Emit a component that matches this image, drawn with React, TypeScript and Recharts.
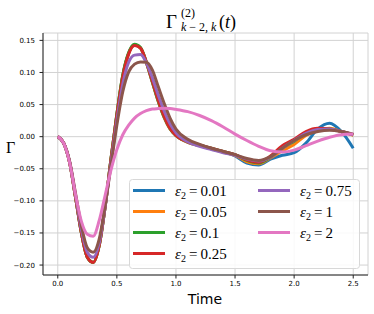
import React from "react";
import {
  LineChart,
  Line,
  XAxis,
  YAxis,
  CartesianGrid,
} from "recharts";

// time samples
const times = [
  0, 0.05, 0.1, 0.15, 0.2, 0.25, 0.3, 0.35, 0.4, 0.45, 0.5, 0.55, 0.6, 0.65,
  0.7, 0.75, 0.8, 0.85, 0.9, 0.95, 1.0, 1.1, 1.2, 1.3, 1.4, 1.5, 1.6, 1.7,
  1.8, 1.9, 2.0, 2.1, 2.2, 2.3, 2.4, 2.5,
];

// Γ values per ε2
const eps001 = [
  0, -0.01, -0.04, -0.094, -0.15, -0.188, -0.196, -0.17, -0.11, -0.035, 0.035,
  0.095, 0.13, 0.143, 0.138, 0.115, 0.085, 0.055, 0.03, 0.012, 0.002, -0.009,
  -0.014, -0.019, -0.024, -0.03, -0.041, -0.044, -0.035, -0.029, -0.025,
  -0.01, 0.012, 0.021, 0.008, -0.018,
];
const eps005 = [
  0, -0.01, -0.04, -0.094, -0.15, -0.188, -0.196, -0.17, -0.11, -0.035, 0.035,
  0.095, 0.13, 0.143, 0.138, 0.115, 0.085, 0.055, 0.03, 0.012, 0.002, -0.009,
  -0.014, -0.019, -0.024, -0.029, -0.039, -0.042, -0.033, -0.022, -0.012,
  0.002, 0.01, 0.013, 0.008, 0.002,
];
const eps01 = [
  0, -0.01, -0.04, -0.094, -0.15, -0.188, -0.196, -0.17, -0.11, -0.035, 0.035,
  0.096, 0.131, 0.144, 0.139, 0.116, 0.086, 0.056, 0.031, 0.013, 0.002, -0.008,
  -0.013, -0.018, -0.023, -0.028, -0.037, -0.041, -0.032, -0.018, -0.007,
  0.005, 0.011, 0.012, 0.008, 0.003,
];
const eps025 = [
  0, -0.01, -0.04, -0.094, -0.15, -0.188, -0.196, -0.17, -0.11, -0.036, 0.033,
  0.093, 0.129, 0.142, 0.138, 0.116, 0.087, 0.057, 0.032, 0.013, 0.002, -0.008,
  -0.013, -0.018, -0.023, -0.028, -0.036, -0.04, -0.03, -0.014, -0.004, 0.008,
  0.013, 0.012, 0.008, 0.003,
];
const eps075 = [
  0, -0.01, -0.039, -0.091, -0.145, -0.18, -0.188, -0.166, -0.11, -0.041,
  0.025, 0.082, 0.116, 0.127, 0.128, 0.115, 0.092, 0.065, 0.04, 0.02, 0.006,
  -0.008, -0.015, -0.02, -0.025, -0.029, -0.035, -0.038, -0.032, -0.018,
  -0.006, 0.005, 0.011, 0.012, 0.008, 0.003,
];
const eps1 = [
  0, -0.01, -0.038, -0.088, -0.139, -0.173, -0.18, -0.16, -0.108, -0.045,
  0.018, 0.07, 0.101, 0.113, 0.1165, 0.116, 0.104, 0.078, 0.052, 0.029, 0.012,
  -0.004, -0.012, -0.018, -0.023, -0.028, -0.034, -0.037, -0.031, -0.018,
  -0.006, 0.003, 0.008, 0.01, 0.008, 0.004,
];
const eps2 = [
  0, -0.01, -0.04, -0.09, -0.132, -0.152, -0.155, -0.131, -0.092, -0.052,
  -0.02, 0.003, 0.018, 0.029, 0.036, 0.0405, 0.043, 0.0438, 0.0442, 0.0438,
  0.0425, 0.039, 0.033, 0.025, 0.015, 0.004, -0.006, -0.015, -0.022, -0.024,
  -0.021, -0.014, -0.007, -0.001, 0.003, 0.004,
];

const xTicks = [0, 0.5, 1.0, 1.5, 2.0, 2.5];
const yTicks = [-0.2, -0.15, -0.1, -0.05, 0, 0.05, 0.1, 0.15];

const series = [
  { key: "e001", label: "0.01", color: "#1f77b4", values: eps001 },
  { key: "e005", label: "0.05", color: "#ff7f0e", values: eps005 },
  { key: "e01", label: "0.1", color: "#2ca02c", values: eps01 },
  { key: "e025", label: "0.25", color: "#d62728", values: eps025 },
  { key: "e075", label: "0.75", color: "#9467bd", values: eps075 },
  { key: "e1", label: "1", color: "#8c564b", values: eps1 },
  { key: "e2", label: "2", color: "#e377c2", values: eps2 },
];

const data = times.map((t, i) => {
  const row: Record<string, number> = { t };
  series.forEach((s) => (row[s.key] = s.values[i]));
  return row;
});

const fmtY = (v: number) => (v < 0 ? "\u2212" : "") + Math.abs(v).toFixed(2);
const fmtX = (v: number) => v.toFixed(1);

const tickStyle = { fontFamily: "DejaVu Sans", fontSize: 7, fill: "#000" };

function LegendBox() {
  const colA = series.slice(0, 4);
  const colB = series.slice(4);
  const row = (s: (typeof series)[number], i: number, x: number) => (
    <g key={s.key}>
      <line x1={x} x2={x + 32} y1={11.5 + i * 21} y2={11.5 + i * 21} stroke={s.color} strokeWidth={3} />
      <text x={x + 42} y={16.5 + i * 21} fontFamily="Liberation Serif" fontSize={15} fill="#000">
        <tspan fontStyle="italic">ε</tspan>
        <tspan fontSize={10} dy={3}>2</tspan>
        <tspan dy={-3}>{"\u2009=\u2009" + s.label}</tspan>
      </text>
    </g>
  );
  return (
    <g transform="translate(129,179)">
      <rect x={0.5} y={0.5} width={230} height={89} rx={3} fill="#fff" fillOpacity={0.85} stroke="#d8d8d8" />
      {colA.map((s, i) => row(s, i, 4))}
      {colB.map((s, i) => row(s, i, 129))}
    </g>
  );
}

export default function App() {
  return (
    <div style={{ position: "absolute", left: 0, top: 0, width: 374, height: 314, background: "#fff" }}>
      <LineChart width={374} height={314} data={data} margin={{ top: 33, right: 6, bottom: 0, left: 0 }}>
        <CartesianGrid stroke="#d2d2d2" strokeWidth={1} />
        <XAxis
          dataKey="t"
          type="number"
          domain={[-0.125, 2.625]}
          ticks={xTicks}
          tickFormatter={fmtX}
          tick={tickStyle}
          tickSize={3.5}
          tickMargin={2.5}
          height={39}
          stroke="#222"
          allowDataOverflow
        />
        <XAxis xAxisId="top" orientation="top" type="number" domain={[-0.125, 2.625]} height={0} tick={false} tickLine={false} stroke="#222" />
        <YAxis
          type="number"
          domain={[-0.2155, 0.1615]}
          ticks={yTicks}
          tickFormatter={fmtY}
          tick={tickStyle}
          tickSize={3.5}
          tickMargin={4.5}
          width={43}
          stroke="#222"
          allowDataOverflow
        />
        <YAxis yAxisId="right" orientation="right" type="number" domain={[-0.2155, 0.1615]} width={0} tick={false} tickLine={false} stroke="#222" />
        {series.map((s) => (
          <Line
            key={s.key}
            type="monotone"
            dataKey={s.key}
            stroke={s.color}
            strokeWidth={3}
            dot={false}
            isAnimationActive={false}
          />
        ))}
      </LineChart>
      <svg
        width={374}
        height={314}
        style={{ position: "absolute", left: 0, top: 0, pointerEvents: "none" }}
      >
        <LegendBox />
        <text x={166} y={28} fontFamily="Liberation Serif" fontSize={19} fill="#000">Γ</text>
        <text x={181} y={17} fontFamily="Liberation Serif" fontSize={12} fill="#000">(2)</text>
        <text x={181} y={31} fontFamily="Liberation Serif" fontSize={12} fill="#000">
          <tspan fontStyle="italic">k</tspan> − 2, <tspan fontStyle="italic">k</tspan>
        </text>
        <text x={219} y={28} fontFamily="Liberation Serif" fontSize={18} fill="#000">
          (<tspan fontStyle="italic">t</tspan>)
        </text>
        <text x={6} y={153} fontFamily="Liberation Serif" fontSize={16} fill="#000">Γ</text>
        <text x={205} y={304} textAnchor="middle" fontFamily="DejaVu Sans" fontSize={14} fill="#000">Time</text>
      </svg>
    </div>
  );
}
